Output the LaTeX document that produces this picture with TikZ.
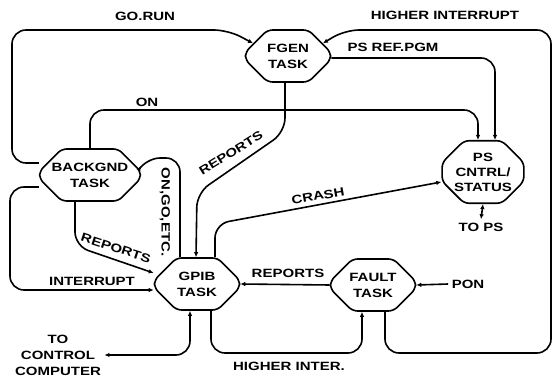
\documentclass[tikz,border=0pt]{standalone}
\usepackage{fontspec}
\setmainfont{Liberation Sans}[FakeStretch=1.25, BoldFeatures={FakeStretch=1.25}]
\usepackage{tikz}
\usetikzlibrary{shapes.misc,arrows.meta}

\begin{document}
\begin{tikzpicture}[x=1pt,y=-1pt,
    font=\bfseries\fontsize{12}{16}\selectfont,
    task/.style={draw, line width=1.6pt, chamfered rectangle, chamfered rectangle sep=11pt,
      rounded corners=5pt, align=center, minimum width=85pt, minimum height=52pt, inner sep=1pt},
    flow/.style={line width=1.6pt, rounded corners=14pt, -{Latex[length=5pt,width=4.5pt]}},
    both/.style={flow, {Latex[length=5pt,width=4.5pt]}-{Latex[length=5pt,width=4.5pt]}}]
    \useasboundingbox (0,0) rectangle (555,379);

    % Tasks
    \node[task] (fgen) at (288,56) {FGEN\\TASK};
    \node[task] (bkg) at (90,175) {BACKGND\\TASK};
    \node[task] (gpib) at (197,284) {GPIB\\TASK};
    \node[task] (fault) at (373,285) {FAULT\\TASK};
    \node[task, minimum width=77pt, font=\bfseries\fontsize{12}{15}\selectfont] (ps) at (483,172) {PS\\CNTRL/\\STATUS};

    % Outside ends
    \node (pon) at (468,284) {PON};
    \node (tops) at (481,227) {TO PS};
    \node[align=center] (ctrl) at (58,355) {TO\\CONTROL\\COMPUTER};

    % Connectors
    \draw[flow] ([yshift=12pt]bkg.west) -- (12,163) -- (12,30) -- (228,30) -- (fgen.160);
    \draw[flow] (bkg.north) |- (300,110) -| ([xshift=-5pt]ps.north);
    \draw[flow] ([yshift=-2pt]fgen.east) -| ([xshift=12pt]ps.north);
    \draw[flow] ([xshift=12pt]fault.south) |- (551,353) -- (551,30) -- (345,30) -- (fgen.20);
    \draw[flow] ([xshift=-3pt]fgen.south) -- (285,132) -- (197,193) -- ([xshift=-1pt]gpib.north);
    \draw[flow] ([xshift=-17pt]gpib.north) -- (180,158) -- (146,158) -- ([yshift=9pt]bkg.east);
    \draw[flow] ([xshift=-15pt]bkg.south) -- (75,246) -- ([yshift=11pt]gpib.west);
    \draw[flow] ([yshift=-12pt]bkg.west) -- (10,187) |- ([yshift=-6pt]gpib.west);
    \draw[flow] ([xshift=18pt]gpib.north) -- (215,224) -- ([yshift=-10pt]ps.west);
    \draw[flow] (fault.west) -- (gpib.east);
    \draw[flow] (pon.west) -- (fault.east);
    \draw[flow] ([xshift=14pt]gpib.south) |- (300,353) -| ([xshift=-11pt]fault.south);
    \draw[both] ([xshift=-7pt]gpib.south) |- (ctrl.east);
    \draw[both, rounded corners=0pt] (ps.south) -- (tops.north);

    % Labels
    \node (lgorun) at (145,16) {GO.RUN};
    \node (lhigh) at (445,15) {HIGHER INTERRUPT};
    \node (lref) at (393,47) {PS REF.PGM};
    \node (lon) at (147,102) {ON};
    \node[rotate=32] (lrepa) at (231,153) {REPORTS};
    \node[rotate=-90] (lgo) at (165,212) {ON,GO,ETC.};
    \node[rotate=10] (lcrash) at (318,196) {CRASH};
    \node[rotate=-18] (lrepb) at (116,248) {REPORTS};
    \node (lint) at (92,281) {INTERRUPT};
    \node (lrepc) at (288,273) {REPORTS};
    \node (linter) at (289,366) {HIGHER INTER.};
\end{tikzpicture}
\end{document}
